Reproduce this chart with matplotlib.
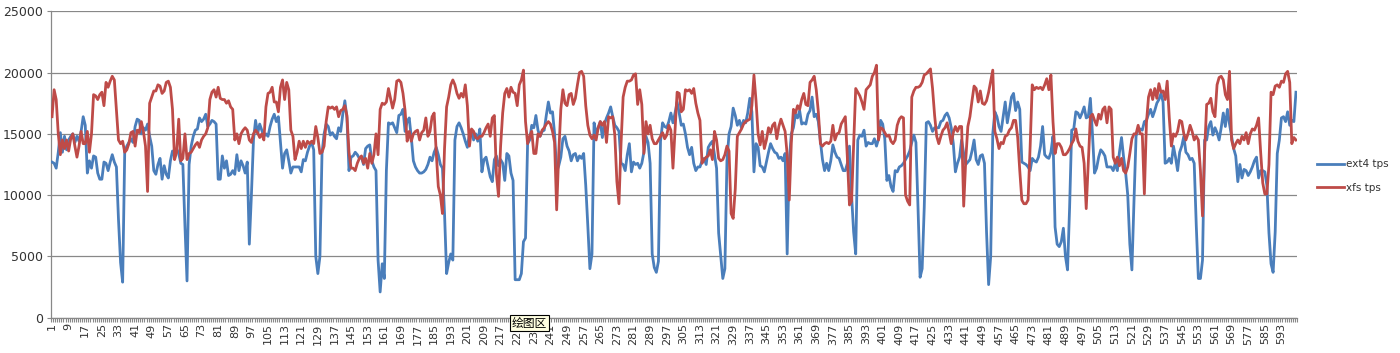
import matplotlib
matplotlib.use("Agg")
import matplotlib.pyplot as plt
from matplotlib.ticker import FixedLocator

# ---------------- data ----------------
ext4_001_100 = [
    12700,12600,12200,13500,15100,13500,14800,13700,14500,14800,
    15000,14300,14800,14400,15200,16400,15700,11800,12800,12200,
    13200,13100,11800,11300,11300,12700,12600,12000,12700,13300,
    12700,12300,8000,4500,2900,13500,14000,14300,14600,14300,
    15600,16200,16100,15000,15500,15300,15800,14800,14000,12000,
    11700,12500,13000,11300,12400,11700,11400,12800,13600,13200,
    13800,13400,12600,12500,7500,3000,12500,14000,14800,15300,
    15400,16300,16000,16200,16600,15600,15800,16100,16000,15800,
    11300,11300,13200,12200,12800,11600,11700,12000,11700,13300,
    12000,12800,12400,11800,12700,6000,10000,14500,16100,15000]
ext4_101_200 = [
    15800,15300,14800,15000,14800,15600,16200,16600,16000,16400,
    14300,12200,13400,13700,12800,11800,12300,12300,12300,12300,
    11900,12900,12800,13500,14000,14300,13700,5000,3600,5000,
    13400,15000,15800,15600,14900,15100,14800,14600,15500,15200,
    16600,17700,16300,12000,13100,13200,13500,13300,13000,13100,
    12500,13800,14000,14100,12800,12300,12000,4700,2100,4400,
    3200,12000,15900,15800,15900,15500,15100,16500,16600,17000,
    15200,16000,16300,14700,12800,12300,12000,11800,11800,11900,
    12100,12500,13100,12800,13500,13900,13300,12500,12200,8500,
    3600,4500,5200,4700,14500,15600,15900,15500,15000,14400]
ext4_201_300 = [
    13900,15000,15300,14500,15000,14400,15400,11900,12900,13100,
    12300,11500,11100,12900,13200,12400,12900,12600,11200,13400,
    13200,11800,11200,3100,3100,3100,3600,6200,6500,14200,
    14500,15700,15500,16500,15300,14800,15200,15300,16500,17600,
    16700,16800,15000,11900,12400,13100,14600,14800,14000,13600,
    12800,13300,13400,12800,13200,13000,13400,10800,7500,4000,
    5200,15900,15000,15500,16000,14700,15800,16300,16700,17200,
    16400,15700,15500,15200,12600,12500,12000,13300,14200,11900,
    12700,12500,12600,12200,12600,13500,14800,14300,12600,5200,
    4100,3700,4600,14400,15900,15600,15500,16000,16700,15900]
ext4_301_400 = [
    16700,17600,16700,15700,15800,15000,13900,13300,13900,12600,
    12000,12300,12300,12800,13000,12500,13900,14200,14400,13300,
    12200,6900,5000,3200,4000,12800,15000,15600,17100,16500,
    15700,16100,15500,16100,15900,16700,17900,16800,11900,14200,
    13900,12400,12300,11900,12700,13500,14200,13800,13500,13400,
    13000,13100,12800,13400,5200,12800,15000,15500,16600,16300,
    16900,15800,15900,15800,16600,16900,18000,16400,16600,16000,
    14400,12900,12000,12600,12000,12800,14100,13500,13100,13000,
    12500,12000,12000,12600,14000,10000,7000,5200,14500,14900,
    14800,15300,14000,14300,14200,14200,14600,14000,14600,16100]
ext4_401_500 = [
    15800,14600,11200,11600,10700,10300,12000,11900,12300,12400,
    12600,12900,13200,13600,14300,14900,14300,9000,3300,4000,
    9000,15900,16000,15700,15200,15500,15500,15500,16000,16100,
    16500,16700,16300,15500,14200,11900,12600,13100,14500,13400,
    12500,12700,12900,13600,14500,12900,12500,13200,13300,12600,
    7000,2700,5000,15000,16800,16400,15600,15200,16400,17600,
    15900,16900,18000,18300,16900,17600,17000,12700,12600,12500,
    12300,12000,13000,12800,12700,13100,14000,15600,13300,13100,
    13000,13500,14800,7400,6000,5800,6200,7300,5000,3900,
    9000,15300,15400,16800,16700,16300,16700,17200,16300,16400]
ext4_501_600 = [
    17900,15000,11800,12200,13100,13700,13500,13200,12300,12300,
    12300,12000,12600,12000,13500,14700,13100,11800,10000,6000,
    3900,9500,14800,15400,15400,15300,16000,16100,16600,17000,
    16400,16900,17500,17800,18300,17600,12600,12700,13000,12600,
    14000,13100,12000,13500,14000,14800,13500,13300,12900,13000,
    12600,7500,3200,3200,4700,14500,14500,15600,16000,14900,
    15500,15100,14500,15500,16700,15600,17000,15800,14800,13800,
    13200,11100,12500,11400,12100,12000,11600,11900,12300,12800,
    13100,11400,12000,12000,11900,10800,6900,4400,3700,7000,
    13400,14500,16300,16400,16000,16800,15700,16100,16000,18400]

xfs_001_100 = [
    16400,18600,17800,15000,13300,14500,13800,14500,13600,14600,
    15000,14000,13100,14000,15200,14200,14200,15200,13500,15000,
    18200,18100,17800,18200,18400,17300,19200,18800,19300,19700,
    19400,17000,14500,14200,14400,13500,13700,14200,15100,15200,
    14000,15300,15100,16000,15200,14000,10300,17500,18000,18500,
    18500,19000,18900,18300,18500,19200,19300,18800,17000,12900,
    13500,16200,12800,13000,15000,12900,13400,13500,13800,14100,
    14300,13900,14500,14800,15000,15500,17800,18400,18600,18000,
    18800,17900,17800,17800,17500,17700,17200,17000,14500,15000,
    14200,15000,15300,15500,15300,14500,14300,15000,15300,15100]
xfs_101_200 = [
    14700,15000,14500,17200,18300,18400,18800,17600,17600,16800,
    18800,19400,17800,19200,18600,15300,14800,12900,13500,14400,
    13800,14400,13900,14400,14200,14400,14200,15600,14700,13400,
    13500,14000,16000,17200,17100,17200,17000,17200,16400,16900,
    17000,17300,16500,13500,12200,12200,12000,12600,13000,13200,
    12600,13000,12200,13400,12600,13300,15000,13300,17000,17500,
    17400,17600,18700,17900,17100,17800,19300,19400,19200,18300,
    16900,14400,15200,14400,15000,15200,15300,14500,15100,15300,
    16300,14800,15200,16400,16700,13500,10700,10000,8500,13800,
    17200,18000,19000,19400,19000,18300,17900,18300,18000,19000]
xfs_201_300 = [
    17300,14000,15400,15200,14700,14600,14800,14800,15100,15500,
    15800,14800,16300,16500,11700,9900,14000,16700,18300,18700,
    18000,18800,18400,18300,17300,19000,19400,20200,16000,14200,
    14800,15200,13400,13400,15000,14800,15300,15500,15800,16000,
    15800,15200,14300,8800,13400,17000,18600,17500,17300,18200,
    18300,17400,17900,19000,20000,20100,19700,17300,15700,14900,
    14600,14900,14500,15500,16000,15700,16000,14300,16400,16300,
    16400,14900,11100,9300,14200,18000,18800,19300,19300,19400,
    19800,19900,17400,18600,17400,13400,16000,15000,15700,14600,
    14200,14200,14500,14800,15100,14600,14900,15700,15300,12200]
xfs_301_400 = [
    15300,18400,18300,16800,17000,18600,18500,18600,18300,18700,
    17500,16700,16100,12600,12900,13100,13200,13700,12900,15200,
    14500,13000,12800,12900,13300,14000,13600,8500,8100,10500,
    14800,15100,15400,15800,16000,16100,16200,17300,19800,17700,
    15000,14100,15200,13800,14500,15500,15100,15700,15900,14600,
    15600,16200,15700,15200,13300,9600,14300,17000,16700,17300,
    17000,17800,18300,17400,17300,19200,19400,19700,18600,16800,
    14200,14000,14200,14300,14200,14400,15700,14500,15000,15100,
    15800,16100,16400,13000,9200,9500,14000,18700,18400,18100,
    17600,17000,18600,18800,19000,19700,20000,20600,14500,15500]
xfs_401_500 = [
    15400,15100,14800,14900,14400,14200,14500,15700,16200,16400,
    16300,10000,9500,9200,18000,18500,18800,18800,18900,19200,
    19800,19900,20100,20300,18700,16500,14800,14200,14800,15300,
    15500,15900,15100,14200,15100,15600,15200,15600,15600,9100,
    12900,15600,16400,17700,18900,18700,17600,18500,17500,17400,
    17700,18400,19300,20200,15200,14600,13800,14300,14200,14800,
    14900,15300,15500,16100,16100,14700,12000,9600,9300,9300,
    9600,14000,19000,18600,18800,18700,18800,18600,19000,19500,
    18600,19800,16000,13400,14200,14200,13900,13300,13300,13500,
    13800,14200,14500,15400,14400,14000,13900,12600,8900,12600]
xfs_501_600 = [
    16400,16600,16100,15700,16600,16200,17000,17200,15900,17200,
    17000,13100,12600,13100,12400,13000,12000,11800,12300,13400,
    14600,15000,15000,15700,15000,15000,10100,15900,18000,18600,
    17800,18700,17900,19100,18400,18500,17800,19300,16300,14000,
    15000,14800,15200,16100,16000,15000,14500,15000,15700,15200,
    14500,14800,14500,12000,8300,13500,17400,17500,17900,16800,
    16400,19000,19600,19700,19400,18200,17800,20100,14500,13800,
    14200,14500,14200,14800,14500,15100,14200,15000,15400,15300,
    15700,16300,13500,11000,10100,10100,12500,18400,18200,18900,
    19000,18800,19300,19200,19900,20100,19200,14200,14700,14500]

ext4_tps = ext4_001_100 + ext4_101_200 + ext4_201_300 + ext4_301_400 + ext4_401_500 + ext4_501_600
xfs_tps = xfs_001_100 + xfs_101_200 + xfs_201_300 + xfs_301_400 + xfs_401_500 + xfs_501_600
categories = list(range(1, len(ext4_tps) + 1))
x_tick_labels = [str(c) for c in categories[::8]]
y_ticks = [0, 5000, 10000, 15000, 20000, 25000]
series_names = ["ext4 tps", "xfs tps"]

# ---------------- figure ----------------
W, H = 1400, 353
fig = plt.figure(figsize=(W / 100, H / 100), dpi=100)
ax = fig.add_axes([51 / W, 1 - 317.7 / H, (1297 - 51) / W, (317.7 - 11.3) / H])

blue = "#4A7EBB"
red = "#BE4B48"
grid_c = "#888888"

ax.plot(categories, ext4_tps, color=blue, lw=2.0, label=series_names[0], solid_joinstyle="round", zorder=3)
ax.plot(categories, xfs_tps, color=red, lw=2.0, label=series_names[1], solid_joinstyle="round", zorder=3)

ax.set_xlim(0.5, len(categories) + 0.5)
ax.set_ylim(0, 25000)
ax.set_yticks(y_ticks)
ax.set_yticklabels([str(v) for v in y_ticks], fontsize=9, color="#333333")
ax.yaxis.grid(True, color=grid_c, lw=0.9)
ax.set_axisbelow(True)

ax.set_xticks(categories[::8])
ax.set_xticklabels(x_tick_labels, rotation=90, fontsize=8, color="#333333")
ax.xaxis.set_minor_locator(FixedLocator([c + 0.5 for c in range(0, len(categories) + 1)]))
ax.tick_params(axis="x", which="major", length=0, pad=4)
ax.tick_params(axis="x", which="minor", length=3, width=0.8, color=grid_c)
ax.tick_params(axis="y", which="major", length=3, width=0.8, color=grid_c, pad=3)

for s in ["top", "right"]:
    ax.spines[s].set_visible(False)
for s in ["left", "bottom"]:
    ax.spines[s].set_color(grid_c)
    ax.spines[s].set_linewidth(0.9)

leg = fig.legend(loc="center left", bbox_to_anchor=(1307.5 / W, 1 - 176 / H), frameon=False,
                 fontsize=7.5, handlelength=2.6, handletextpad=0.15, labelspacing=1.3)
for t in leg.get_texts():
    t.set_color("#333333")

fig.text(529.5 / W, 1 - 323 / H, "绘图区", fontsize=8.5, ha="center", va="center",
         family=["Noto Sans CJK SC", "DejaVu Sans"],
         bbox=dict(boxstyle="square,pad=0.12", fc="#FFFFE1", ec="black", lw=0.8), zorder=10)

fig.savefig("out.png", dpi=100)
